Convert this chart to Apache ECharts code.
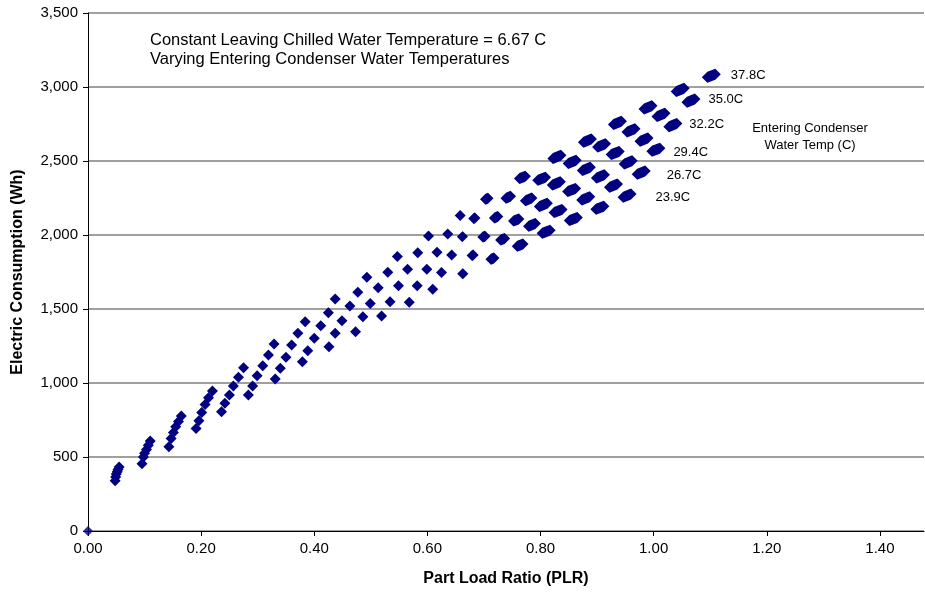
<!DOCTYPE html>
<html>
<head>
<meta charset="utf-8">
<script src="https://cdn.jsdelivr.net/npm/echarts@6/dist/echarts.min.js"></script>
<style>
  html, body { margin: 0; padding: 0; background: #fff; }
  #main { width: 925px; height: 597px; }
</style>
</head>
<body>
<div id="main"></div>
<script>
// series names (entering condenser water temp)
let temps = ['23.9C', '26.7C', '29.4C', '32.2C', '35.0C', '37.8C'];

// part load ratio / electric consumption (Wh), one pair per temperature
let plr239 = [0.048, 0.0955, 0.143, 0.191, 0.236, 0.2835, 0.331, 0.379, 0.426, 0.473, 0.519, 0.568, 0.6095, 0.6626, 0.715, 0.764, 0.810, 0.858, 0.905, 0.953];
let wh239 = [340, 455, 570, 692, 806, 919, 1027, 1144, 1245, 1347, 1453, 1545, 1633, 1738, 1840, 1932, 2022, 2108, 2184, 2266];

let plr267 = [0.049, 0.098, 0.147, 0.196, 0.242, 0.291, 0.340, 0.3885, 0.437, 0.486, 0.534, 0.582, 0.625, 0.680, 0.733, 0.785, 0.831, 0.880, 0.929, 0.978];
let wh267 = [365, 500, 625, 745, 863, 980, 1099, 1218, 1336, 1448, 1549, 1657, 1747, 1863, 1971, 2068, 2162, 2248, 2334, 2421];

let plr294 = [0.050, 0.100, 0.151, 0.201, 0.250, 0.299, 0.350, 0.400, 0.449, 0.499, 0.549, 0.599, 0.643, 0.700, 0.757, 0.805, 0.855, 0.906, 0.955, 1.004];
let wh294 = [385, 525, 665, 800, 919, 1049, 1174, 1302, 1421, 1538, 1657, 1768, 1865, 1989, 2101, 2203, 2304, 2396, 2491, 2576];

let plr322 = [0.0517, 0.1034, 0.155, 0.207, 0.257, 0.309, 0.360, 0.4115, 0.463, 0.513, 0.565, 0.617, 0.662, 0.7215, 0.779, 0.828, 0.881, 0.932, 0.983, 1.034];
let wh322 = [400, 550, 705, 855, 980, 1117, 1257, 1387, 1520, 1644, 1768, 1884, 1989, 2120, 2241, 2349, 2447, 2554, 2644, 2743];

let plr350 = [0.053, 0.1066, 0.160, 0.213, 0.266, 0.319, 0.371, 0.425, 0.477, 0.530, 0.583, 0.636, 0.683, 0.743, 0.802, 0.856, 0.908, 0.960, 1.013, 1.066];
let wh350 = [415, 580, 740, 900, 1039, 1189, 1336, 1475, 1613, 1748, 1880, 2006, 2113, 2255, 2380, 2494, 2605, 2707, 2811, 2908];

let plr378 = [0.055, 0.110, 0.165, 0.220, 0.275, 0.329, 0.384, 0.437, 0.493, 0.547, 0.602, 0.658, 0.705, 0.768, 0.829, 0.883, 0.936, 0.990, 1.047, 1.102];
let wh378 = [432, 608, 777, 946, 1103, 1264, 1414, 1568, 1714, 1854, 1993, 2131, 2245, 2389, 2528, 2638, 2757, 2862, 2980, 3076];

let originPoint = [0, 0];

let yTicks = [0, 500, 1000, 1500, 2000, 2500, 3000, 3500];

let FONT = '"Liberation Sans", Arial, sans-serif';
let NAVY = '#000080';

// label placement for the end of each curve: [distance, dy]
let labelPlace = [[19, 2], [16, 3], [8, 3], [7, -1], [8, -1], [10, 0]];

// markers get a smeared look at higher PLR (overlapping points in the original)
const R = 5.5;
function smear(x) {
  return Math.max(0, Math.min(8, (x - 0.66) * 55));
}
function markPath(x) {
  let dx = smear(x), dy = dx * 0.4, r = R;
  return 'path://M0,' + (r + dy) + 'L' + r + ',' + dy + 'L' + (r + dx) + ',0L' +
    (2 * r + dx) + ',' + r + 'L' + (r + dx) + ',' + (2 * r) + 'L' + r + ',' + (2 * r + dy) + 'Z';
}
function markSize(x) {
  let dx = smear(x);
  return [2 * R + dx, 2 * R + dx * 0.4];
}

function makeSeries(name, xs, ys, place) {
  let data = xs.map(function (x, i) { return [x, ys[i]]; });
  let last = data.length - 1;
  data[last] = {
    value: data[last],
    label: {
      show: true,
      position: 'right',
      distance: place[0],
      offset: [0, place[1]],
      formatter: name,
      color: '#000',
      fontSize: 13,
      fontFamily: FONT
    }
  };
  return {
    name: name,
    type: 'scatter',
    clip: false,
    data: data,
    symbol: function (val) { return markPath(val[0]); },
    symbolSize: function (val) { return markSize(val[0]); },
    itemStyle: { color: NAVY, opacity: 1 },
    emphasis: { disabled: true }
  };
}

let chart = echarts.init(document.getElementById('main'));

let series = [
  makeSeries(temps[0], plr239, wh239, labelPlace[0]),
  makeSeries(temps[1], plr267, wh267, labelPlace[1]),
  makeSeries(temps[2], plr294, wh294, labelPlace[2]),
  makeSeries(temps[3], plr322, wh322, labelPlace[3]),
  makeSeries(temps[4], plr350, wh350, labelPlace[4]),
  makeSeries(temps[5], plr378, wh378, labelPlace[5]),
  {
    name: 'origin',
    type: 'scatter',
    clip: false,
    data: [originPoint],
    symbol: 'diamond',
    symbolSize: [10, 10],
    itemStyle: { color: NAVY },
    emphasis: { disabled: true }
  }
];

chart.setOption({
  animation: false,
  backgroundColor: '#fff',
  textStyle: { fontFamily: FONT },
  grid: {
    left: 88,
    top: 13,
    right: 1,
    bottom: 66,
    outerBoundsMode: 'none'
  },
  xAxis: {
    type: 'value',
    min: 0,
    max: 1.478,
    interval: 0.2,
    name: 'Part Load Ratio (PLR)',
    nameLocation: 'middle',
    nameGap: 40,
    nameTextStyle: { color: '#000', fontSize: 16, fontWeight: 'bold', fontFamily: FONT },
    axisLine: { show: true, lineStyle: { color: '#000', width: 1 } },
    axisTick: { show: true, inside: false, length: 5, lineStyle: { color: '#000' } },
    axisLabel: {
      color: '#000',
      fontSize: 15,
      fontFamily: FONT,
      margin: 10,
      showMaxLabel: false,
      formatter: function (v) { return v.toFixed(2); }
    },
    splitLine: { show: false }
  },
  yAxis: {
    type: 'value',
    min: yTicks[0],
    max: yTicks[yTicks.length - 1],
    interval: 500,
    name: 'Electric Consumption (Wh)',
    nameLocation: 'middle',
    nameRotate: 90,
    nameGap: 62,
    nameTextStyle: { color: '#000', fontSize: 16, fontWeight: 'bold', fontFamily: FONT },
    axisLine: { show: true, lineStyle: { color: '#000', width: 1 } },
    axisTick: { show: true, inside: false, length: 5, lineStyle: { color: '#000' } },
    axisLabel: {
      color: '#000',
      fontSize: 15,
      fontFamily: FONT,
      margin: 10,
      formatter: function (v) { return v.toLocaleString('en-US'); }
    },
    splitLine: { show: true, lineStyle: { color: '#808080', width: 1.5 } }
  },
  graphic: [
    {
      type: 'text',
      x: 150,
      y: 31,
      style: {
        text: 'Constant Leaving Chilled Water Temperature = 6.67 C\nVarying Entering Condenser Water Temperatures',
        fill: '#000',
        font: '16.5px ' + FONT,
        lineHeight: 19
      }
    },
    {
      type: 'text',
      x: 810,
      y: 120,
      style: {
        text: 'Entering Condenser\nWater Temp (C)',
        fill: '#000',
        align: 'center',
        font: '13px ' + FONT,
        lineHeight: 17
      }
    }
  ],
  series: series
});
</script>
</body>
</html>
